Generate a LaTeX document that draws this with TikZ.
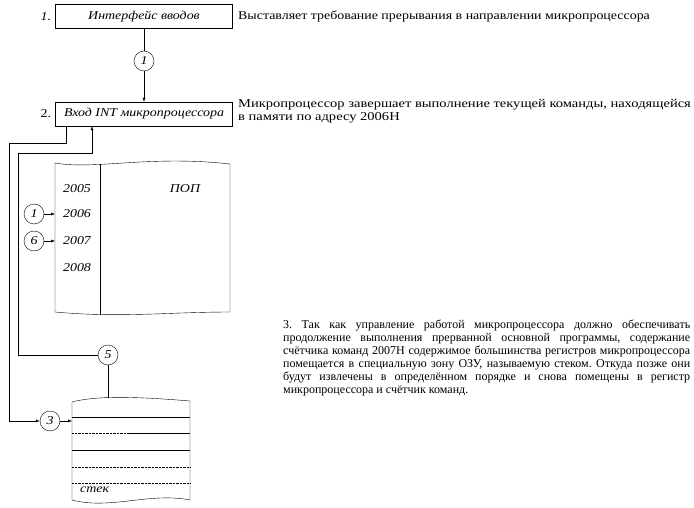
\documentclass[tikz,border=0pt]{standalone}
\usepackage{fontspec}
\setmainfont[FakeStretch=1.16]{Liberation Serif}
\newfontfamily\plainfont{Liberation Serif}
\newfontfamily\widefont[FakeStretch=1.21]{Liberation Serif}
\usetikzlibrary{arrows.meta,positioning}

\begin{document}
\fontsize{12}{13}\selectfont\frenchspacing
\begin{tikzpicture}[x=1pt,y=-1pt,
    blockbox/.style={draw, minimum width=177pt, minimum height=24pt, inner sep=0pt, font=\itshape},
    numcirc/.style={draw, circle, minimum size=20pt, inner sep=0pt, font=\itshape},
    note/.style={anchor=west, inner sep=0pt, align=left},
    conn/.style={-{Latex[length=4pt,width=3pt]}}]
    \useasboundingbox (0,0) rectangle (694,508);

    % Interface and INT input
    \node[blockbox] (inbox) at (144,16.5) {Интерфейс вводов};
    \node[anchor=east, font=\itshape] (lab1) at (inbox.west) {1.};
    \node[note] (txt1) at (238,16) {Выставляет требование прерывания в направлении микропроцессора};

    \node[numcirc] (c1) at (144,61) {1};
    \node[blockbox] (intbox) at (144,114) {Вход INT микропроцессора};
    \node[anchor=east] (lab2) at (intbox.west) {2.};
    \node[note, anchor=north west, font=\widefont] (txt2) at (238,99) {Микропроцессор завершает выполнение текущей команды, находящейся\\в памяти по адресу 2006H};

    \draw (inbox) -- (c1);
    \draw[conn] (c1) -- (intbox);

    % Main program memory
    \draw (55,163) .. controls (95,170) and (150,155) .. (230,164) -- (230,312)
        .. controls (170,312) and (120,318) .. (55,312) -- cycle;
    \draw (100,164) -- (100,315);
    \coordinate (pagel) at (55,0);
    \foreach \a/\y in {2005/189, 2006/214, 2007/241, 2008/268}
        \node[font=\itshape] (a\a) at (77,\y) {\a};
    \node[font=\itshape] (pop) at (185,189) {ПОП};

    \node[numcirc] (m1) at (34,214) {1};
    \node[numcirc] (m6) at (34,241) {6};
    \draw[conn] (m1) -- (m1 -| pagel);
    \draw[conn] (m6) -- (m6 -| pagel);

    % Stack
    \draw (72,402) .. controls (95,396) and (130,396) .. (190,401) -- (190,500)
        .. controls (150,492) and (110,510) .. (72,500) -- cycle;
    \draw (72,417) -- (190,417);
    \draw[densely dotted] (72,433) -- (130,433);
    \draw (130,433) -- (190,433);
    \draw (72,450) -- (190,450);
    \draw[densely dotted] (72,467) -- (190,467);
    \draw[densely dotted] (72,483) -- (190,483);
    \node[font=\itshape, anchor=west] (stk) at (76,490) {стек};
    \coordinate (stackl) at (72,0);
    \coordinate (stackt) at (108,398);

    \node[numcirc] (c5) at (108,355) {5};
    \node[numcirc] (c3) at (50,421) {3};
    \draw (c5) -- (stackt);
    \draw[conn] (c3) -- (c3 -| stackl);

    % Saving and restoring through the stack
    \draw[conn] ([xshift=-78pt]intbox.south) |- (9,143) -- (9,421) -- (c3);
    \draw[conn] (c5) -| (18,153) -| ([xshift=-52pt]intbox.south);

    \node[anchor=north west, text width=407pt, align=justify, inner sep=0pt, font=\plainfont] (txt3) at (283,320)
        {3. Так как управление работой микропроцессора должно обеспечивать\linebreak
        продолжение выполнения прерванной основной программы, содержание\linebreak
        счётчика команд 2007H содержимое большинства регистров микропроцессора\linebreak
        помещается в специальную зону ОЗУ, называемую стеком. Откуда позже они\linebreak
        будут извлечены в определённом порядке и снова помещены в регистр\linebreak
        микропроцессора и счётчик команд.};
\end{tikzpicture}
\end{document}
